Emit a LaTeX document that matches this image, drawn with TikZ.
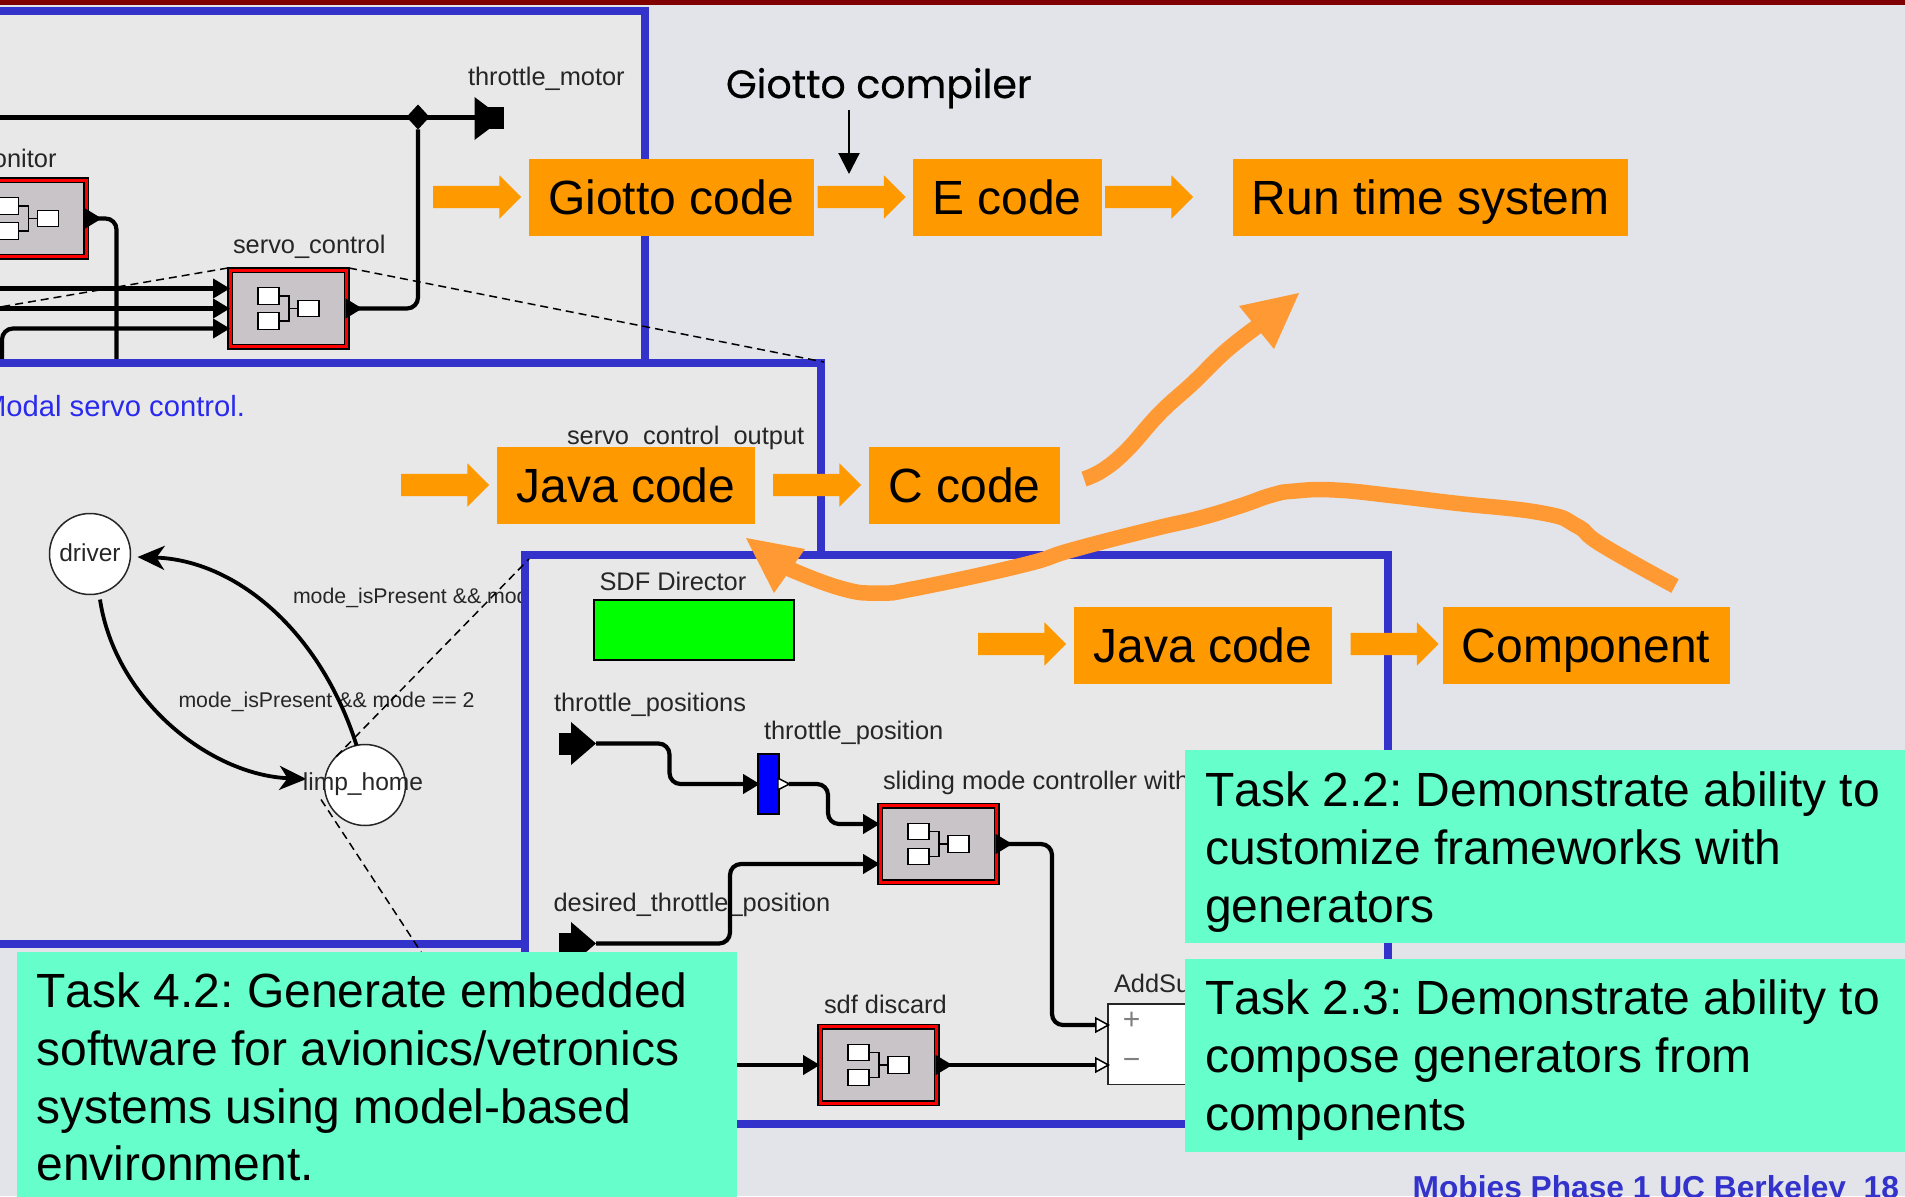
\documentclass[tikz,border=0pt]{standalone}
\usepackage{fontspec}
\setmainfont[Kerning=Off]{Liberation Sans}
\newfontfamily\handfont[FakeBold=0.5]{Poppins}
\usetikzlibrary{arrows.meta,shapes.geometric,shapes.arrows,calc}
\frenchspacing
\definecolor{pagebg}{HTML}{E2E4EA}
\definecolor{panelbg}{HTML}{E8E8E8}
\definecolor{framebl}{HTML}{3333CC}
\definecolor{codeor}{HTML}{FF9900}
\definecolor{handor}{HTML}{FF9933}
\definecolor{taskgr}{HTML}{66FFCC}
\definecolor{blockgr}{HTML}{C8C4C8}
\definecolor{toptbar}{HTML}{800000}
\definecolor{lbltxt}{HTML}{262626}
\definecolor{modalbl}{HTML}{2A2AEE}
\tikzset{
  x=1pt,y=-1pt,
  every node/.style={inner sep=0pt,outer sep=0pt},
  panel/.style={fill=panelbg,draw=framebl,line width=8pt},
  codebox/.style={fill=codeor,font=\fontsize{48}{58}\selectfont,minimum height=77pt,text height=33pt,text depth=0pt},
  codearrow/.style={single arrow,fill=codeor,anchor=tail,inner xsep=0pt,inner ysep=11pt,minimum height=88pt,single arrow head extend=10.5pt,single arrow tip angle=90,single arrow head indent=0pt},
  taskbox/.style={fill=taskgr,anchor=north west},
  tasktext/.style={anchor=north west,align=left,font=\fontsize{48}{57.7}\selectfont},
  lbl/.style={anchor=base west,text=lbltxt,font=\fontsize{25.4}{30}\selectfont},
  smalllbl/.style={anchor=base west,text=lbltxt,font=\fontsize{21.3}{26}\selectfont},
  blockouter/.style={fill=red,draw=black,line width=1.6pt,minimum width=121pt,minimum height=81pt},
  blockinner/.style={fill=blockgr,draw=black,line width=1.4pt,minimum width=112pt,minimum height=72pt},
  iconbox/.style={fill=white,draw=black,line width=1.4pt,minimum width=21pt,minimum height=16.5pt},
  iconwire/.style={draw=black,line width=1.4pt},
  wire/.style={draw=black,line width=4.2pt,rounded corners=11pt},
  tipwire/.style={wire,-{Triangle[length=17pt,width=19pt]}},
  outwire/.style={wire,{Triangle[reversed,length=17pt,width=19pt]}-},
  outwhite/.style={wire,{Triangle[reversed,length=17pt,width=19pt]}-{Triangle[length=15pt,width=16pt,fill=white,line width=1.5pt]}},
  barwire/.style={wire,{Triangle[reversed,length=14pt,width=14pt,fill=white,line width=1.5pt]}-{Triangle[length=17pt,width=19pt]}},
  zoomdash/.style={draw=black,line width=1.5pt,dash pattern=on 8pt off 5pt},
  statenode/.style={circle,fill=white,draw=lbltxt,line width=1.5pt,minimum size=81pt},
  statearc/.style={draw=black,line width=3.8pt,-{Stealth[length=27pt,width=24pt,inset=8pt]}},
  handline/.style={draw=handor,line width=15.5pt},
}
\newcommand{\ptblock}[3]{%
  \node[blockouter] (#1) at (#2,#3) {};
  \node[blockinner] (#1in) at (#2,#3) {};
  \node[iconbox] (#1a) at ({#2-20},{#3-12.5}) {};
  \node[iconbox] (#1b) at ({#2-20},{#3+12.5}) {};
  \node[iconbox] (#1c) at ({#2+20},#3) {};
  \coordinate (#1j) at ({#2+0.5},#3);
  \draw[iconwire] (#1a.east) -| (#1j) |- (#1b.east);
  \draw[iconwire] (#1j) -- (#1c.west);
}
\newcommand{\inport}[3]{%
  \fill[black] ({#2-37},{#3-11}) rectangle ({#2-24},{#3+11});
  \fill[black] ({#2-25},{#3-21.5}) -- ({#2-25},{#3+21.5}) -- (#2,#3) -- cycle;
  \coordinate (#1) at (#2,#3);
}
\begin{document}
\begin{tikzpicture}
\useasboundingbox (0,0) rectangle (1905,1196);
\fill[pagebg] (0,0) rectangle (1905,1196);
\fill[toptbar] (0,0) rectangle (1905,5);

% ---- panel 1
\draw[panel] (-10,11) rectangle (645,363);
\ptblock{monitor}{28}{218.5}
\ptblock{servo}{288.5}{308.5}
\node[lbl] (lmon) at (-7,167) {onitor};
\node[lbl] (lservo) at (233,253) {servo\_control};
\node[lbl] (lmotor) at (468,86) {throttle\_motor};
\node[diamond,fill=black,minimum width=23pt,minimum height=25pt] (junc) at (418,117) {};
\coordinate (motorpt) at (476,117.5);
\coordinate (hleft) at (-5,117.5);
\coordinate (in1) at (-5,288.5);
\coordinate (in2) at (-5,308.5);
\coordinate (in3) at (2,364);
\coordinate (monend) at (116.5,362);
\draw[wire] (hleft) -- (motorpt);
\fill[black] (474.5,97) -- (474.5,140) -- (503,118.5) -- cycle;
\fill[black] (487,107) rectangle (503.5,129);
\draw[tipwire] (in1) -- ([xshift=2pt,yshift=20pt]servo.west);
\draw[tipwire] (in2) -- ([xshift=2pt]servo.west);
\draw[tipwire] (in3) |- ([xshift=2pt,yshift=-20pt]servo.west);
\draw[outwire] ([xshift=-3.5pt]monitor.east) -| (monend);
\draw[outwire] ([xshift=-3.5pt]servo.east) -| (junc.south);

% ---- panel 2
\draw[panel] (-10,363) rectangle (821,944);
\node[anchor=base east,text=modalbl,font=\fontsize{29.2}{34}\selectfont] (lmodal) at (245,416) {Modal servo control.};
\node[lbl] (lsco) at (567,444.5) {servo\_control\_output};
\node[statenode] (driver) at (90,554) {};
\node[statenode] (limp) at (365,785) {};
\node[anchor=base,text=lbltxt,font=\fontsize{24.5}{30}\selectfont] (tdriver) at (90,561) {driver};
\node[smalllbl] (lmode1) at (293,603) {mode\_isPresent \&\& mode == 1};
\node[smalllbl] (lmode2) at (178.5,707.5) {mode\_isPresent \&\& mode == 2};
\draw[statearc] (limp.102) .. controls (320,630) and (235,560) .. ([xshift=7pt,yshift=-3pt]driver.east);
\draw[statearc] ([xshift=10pt,yshift=-5pt]driver.south) .. controls (115,700) and (210,775) .. ([xshift=-18pt,yshift=6pt]limp.west);
\node[anchor=base,text=lbltxt,font=\fontsize{24.6}{30}\selectfont] (tlimp) at (363,790.5) {limp\_home};

% ---- panel 3
\draw[panel] (525,555) rectangle (1387.5,1123.5);
\node[lbl] (lsdf) at (599.5,590) {SDF Director};
\node[fill=green,draw=black,line width=1.8pt,minimum width=200pt,minimum height=60pt] (director) at (694,630) {};
\node[lbl] (ltps) at (554,711) {throttle\_positions};
\node[lbl] (ltp) at (764,739) {throttle\_position};
\node[lbl] (lslide) at (883,789.5) {sliding mode controller with};
\node[lbl] (ldes) at (553.5,911) {desired\_throttle\_position};
\node[lbl] (ldisc) at (824,1013) {sdf discard};
\node[lbl] (ladd) at (1114,992.5) {AddSu};
\node[fill=blue,draw=black,line width=1.5pt,minimum width=21pt,minimum height=60pt] (bar) at (768.5,784) {};
\ptblock{slide}{938.5}{844}
\ptblock{discard}{878.5}{1065}
\node[anchor=north west,fill=white,draw=lbltxt,line width=1.6pt,minimum width=90pt,minimum height=80.5pt] (addsub) at (1108,1004) {};
\node[text=gray,font=\fontsize{30}{34}\selectfont] (plus) at (1131.5,1021) {+};
\node[text=gray,font=\fontsize{30}{34}\selectfont] (minus) at (1131.5,1064) {−};
\inport{tps}{596}{743.5}
\inport{dtp}{596}{943.5}
\coordinate (discin) at (730,1065);
\coordinate (tpsa) at (669.5,743.5);
\coordinate (tpsb) at (669.5,784);
\coordinate (bar1) at (828,784);
\coordinate (bar2) at (828,824);
\coordinate (dtpa) at (730,943.5);
\coordinate (dtpb) at (730,864);
\coordinate (sl1) at (1052,844);
\coordinate (sl2) at (1052,1025);
\coordinate (addplus) at (1110,1025);
\coordinate (addminus) at (1110,1065);
\draw[tipwire] (tps) -- (tpsa) -- (tpsb) -- ([xshift=2pt]bar.west);
\draw[barwire] ([xshift=-2pt]bar.east) -- (bar1) -- (bar2) -- ([xshift=2pt,yshift=20pt]slide.west);
\draw[tipwire] (dtp) -- (dtpa) -- (dtpb) -- ([xshift=2pt,yshift=-20pt]slide.west);
\draw[outwhite] ([xshift=-3.5pt]slide.east) -- (sl1) -- (sl2) -- (addplus);
\draw[tipwire] (discin) -- ([xshift=2pt]discard.west);
\draw[outwhite] ([xshift=-3.5pt]discard.east) -- (addminus);

% ---- zoom dashed lines
\coordinate (d1) at (0,307);
\coordinate (d2) at (824,362);
\coordinate (d3) at (529,559);
\coordinate (d4) at (321,799.5);
\coordinate (d5) at (425,958);
\draw[zoomdash] (servo.north west) -- (d1);
\draw[zoomdash] (servo.north east) -- (d2);
\draw[zoomdash] (limp.135) -- (d3);
\draw[zoomdash] (d4) -- (d5);

% ---- code boxes
\node[codebox,minimum width=285pt] (giotto) at (671,197.5) {Giotto code};
\node[codebox,minimum width=189pt] (ecode) at (1007,197.5) {E code};
\node[codebox,minimum width=395pt] (runtime) at (1430.5,197.5) {Run time system};
\node[codebox,minimum width=258pt] (java1) at (626,485.5) {Java code};
\node[codebox,minimum width=191pt] (ccode) at (964.5,485.5) {C code};
\node[codebox,minimum width=258pt] (java2) at (1203,645.5) {Java code};
\node[codebox,minimum width=287pt] (component) at (1586,645.5) {Component};
\node[codearrow] (a1) at (433,197) {};
\node[codearrow] (a2) at (817.5,197) {};
\node[codearrow] (a3) at (1105,197) {};
\node[codearrow] (a4) at (401,485) {};
\node[codearrow] (a5) at (773,485) {};
\node[codearrow] (a6) at (978,644) {};
\node[codearrow] (a7) at (1350.5,644) {};

% ---- Giotto compiler
\node[anchor=base west,font=\handfont\fontsize{39.5}{44}\selectfont] (lcompiler) at (726,98) {Giotto compiler};
\coordinate (ga) at (849,110);
\coordinate (gb) at (849,174);
\draw[line width=2.2pt,-{Triangle[length=21pt,width=21pt]}] (ga) -- (gb);

% ---- hand-drawn arrows
\draw[handline] plot[smooth,tension=0.7] coordinates {(1084,479) (1103,470) (1127,450) (1160,413) (1193,383) (1227,350) (1262,323)};
\fill[handor] (1299,293) -- (1239,306) -- (1274,349) -- cycle;
\draw[handline] plot[smooth,tension=0.8] coordinates {(1675,586) (1602,545) (1577,526) (1542,513) (1454,503) (1395,496) (1335,490) (1295,491) (1272,495) (1240,506) (1200,518) (1153,529) (1072,550) (1023,565) (917.5,588) (879,593) (840,588) (785,567)};
\fill[handor] (746,538) -- (805,549) -- (774,593) -- cycle;

% ---- task boxes
\node[taskbox,minimum width=730pt,minimum height=193pt] (task22) at (1185,750) {};
\node[taskbox,minimum width=730pt,minimum height=193pt] (task23) at (1185,959) {};
\node[taskbox,minimum width=720pt,minimum height=260pt] (task42) at (17,952) {};
\node[tasktext] (t22) at (1205,772) {Task 2.2: Demonstrate ability to\\customize frameworks with\\generators};
\node[tasktext] (t23) at (1205,980) {Task 2.3: Demonstrate ability to\\compose generators from\\components};
\node[tasktext] (t42) at (36.5,973) {Task 4.2: Generate embedded\\software for avionics/vetronics\\systems using model-based\\environment.};
\node[anchor=base east,text=framebl,font=\bfseries\fontsize{31.7}{36}\selectfont] (footer) at (1899,1198) {Mobies Phase 1 UC Berkeley\ \ 18};
\end{tikzpicture}
\end{document}
